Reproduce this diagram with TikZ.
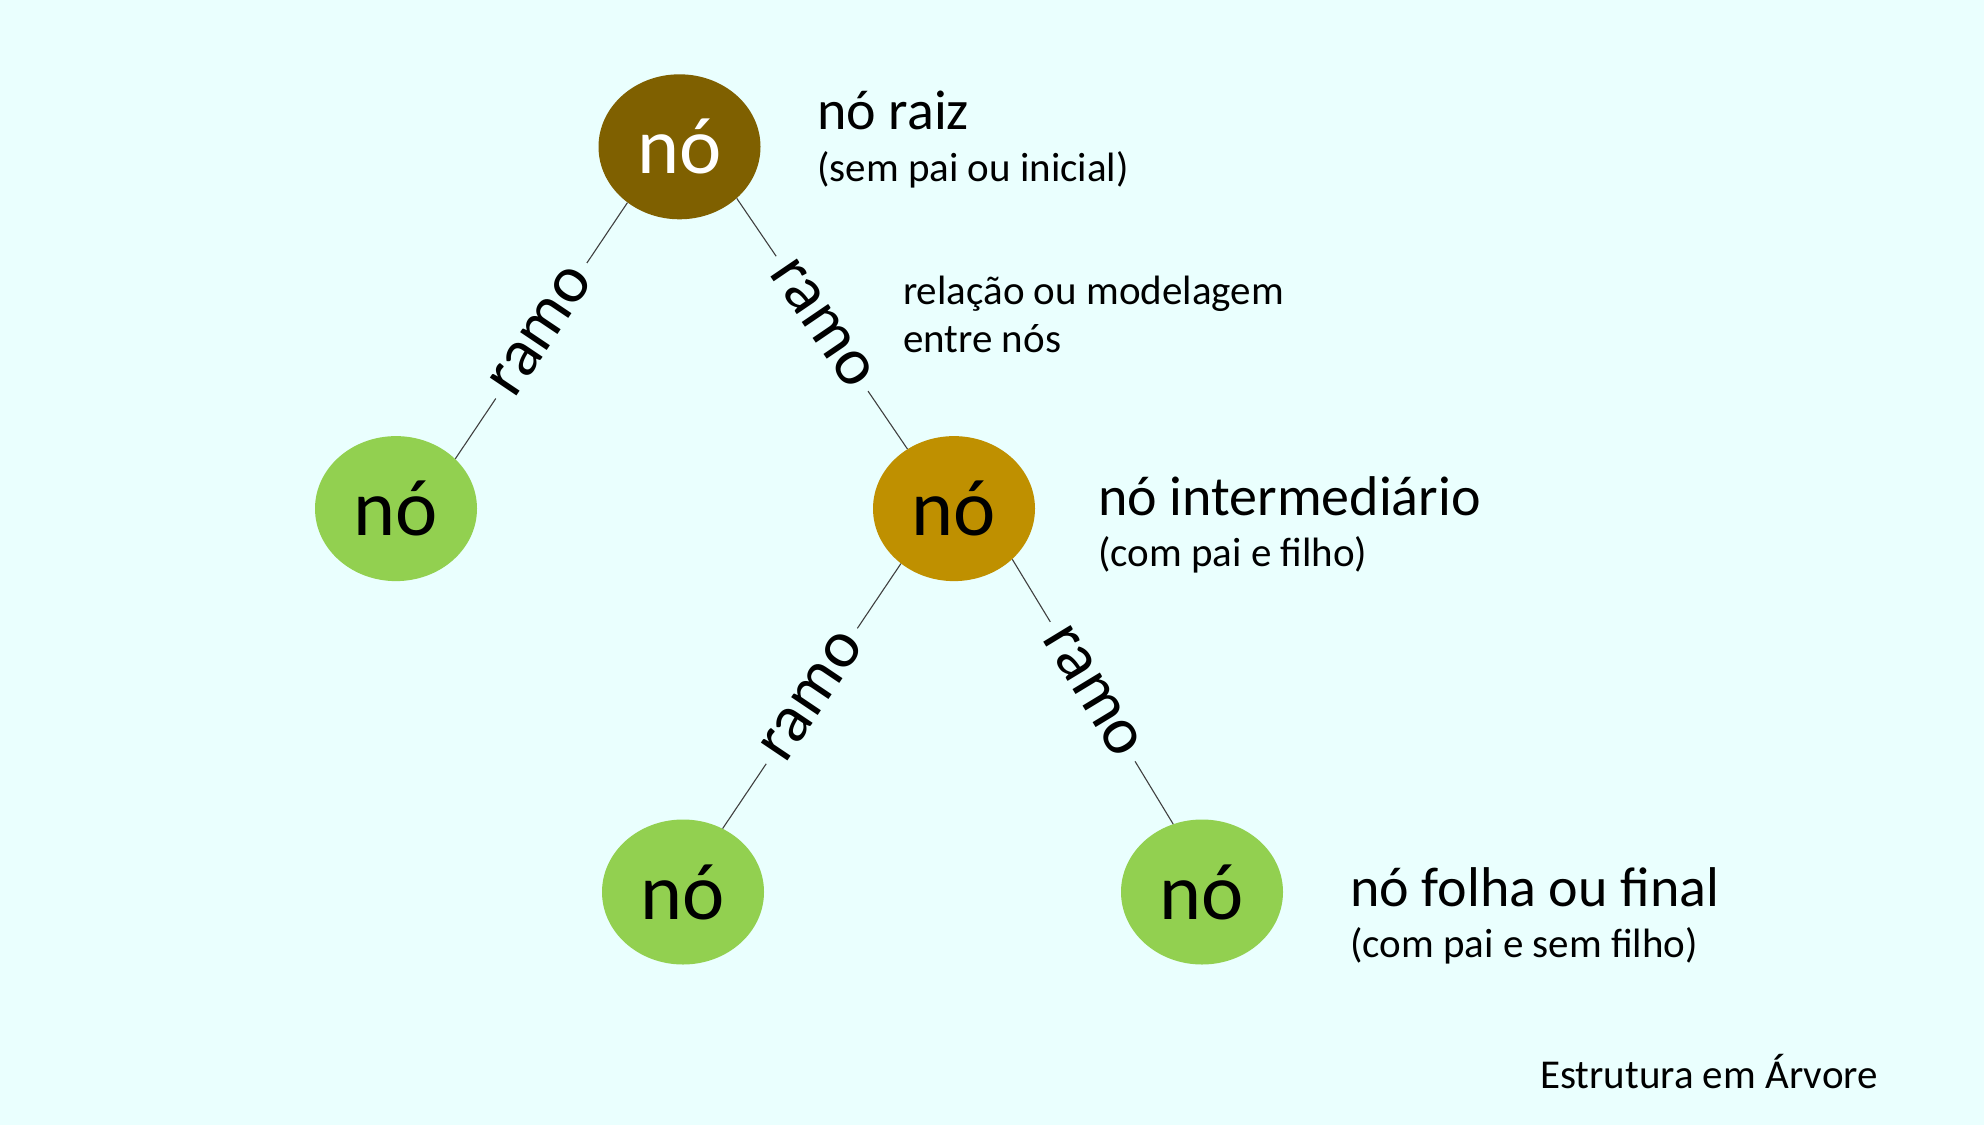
\documentclass[tikz,border=0pt]{standalone}
\usepackage{fontspec}
\setmainfont{Carlito}
\usetikzlibrary{shapes.geometric}
\definecolor{bgc}{HTML}{EAFFFE}
\definecolor{rootc}{HTML}{7F6000}
\definecolor{midc}{HTML}{BF9000}
\definecolor{leafc}{HTML}{92D050}
\definecolor{linec}{HTML}{404040}
\begin{document}
\begin{tikzpicture}[x=1pt,y=-1pt,
  treenode/.style={ellipse,minimum width=162pt,minimum height=145pt,inner sep=0pt,
    font=\fontsize{80}{90}\selectfont},
  rootnode/.style={treenode,fill=rootc,text=white},
  midnode/.style={treenode,fill=midc,text=black},
  leafnode/.style={treenode,fill=leafc,text=black},
  edge/.style={draw=linec,line width=1.1pt},
  ramolbl/.style={sloped,midway,fill=bgc,inner xsep=10pt,inner ysep=4pt,font=\fontsize{67}{76}\selectfont},
  big/.style={anchor=base west,inner sep=0pt,font=\fontsize{56}{62}\selectfont},
  small/.style={anchor=base west,inner sep=0pt,font=\fontsize{41}{48}\selectfont}]
\fill[bgc] (0,0) rectangle (1984,1125);
\useasboundingbox (0,0) rectangle (1984,1125);
\node[rootnode] (r) at (679.5,146.8) {nó};
\node[leafnode] (l) at (396,508.6) {nó};
\node[midnode] (m) at (954,508.6) {nó};
\node[leafnode] (bl) at (683,892) {nó};
\node[leafnode] (br) at (1202,892) {nó};
\draw[edge] (r.227) -- node[ramolbl]{ramo} (l.40);
\draw[edge] (r.318) -- node[ramolbl]{ramo} (m.128);
\draw[edge] (m.226) -- node[ramolbl]{ramo} (bl.58);
\draw[edge] (m.319) -- node[ramolbl]{ramo} (br.113);
\node[big] (t1) at (817,129) {nó raiz};
\node[small] (t1b) at (817,181) {(sem pai ou inicial)};
\node[small] (t2) at (903,304) {relação ou modelagem};
\node[small] (t2b) at (903,352) {entre nós};
\node[big] (t3) at (1098,515) {nó intermediário};
\node[small] (t3b) at (1098,566) {(com pai e filho)};
\node[big] (t4) at (1350,906) {nó folha ou final};
\node[small] (t4b) at (1350,957) {(com pai e sem filho)};
\node[small] (t5) at (1540,1088) {Estrutura em Árvore};
\end{tikzpicture}
\end{document}
